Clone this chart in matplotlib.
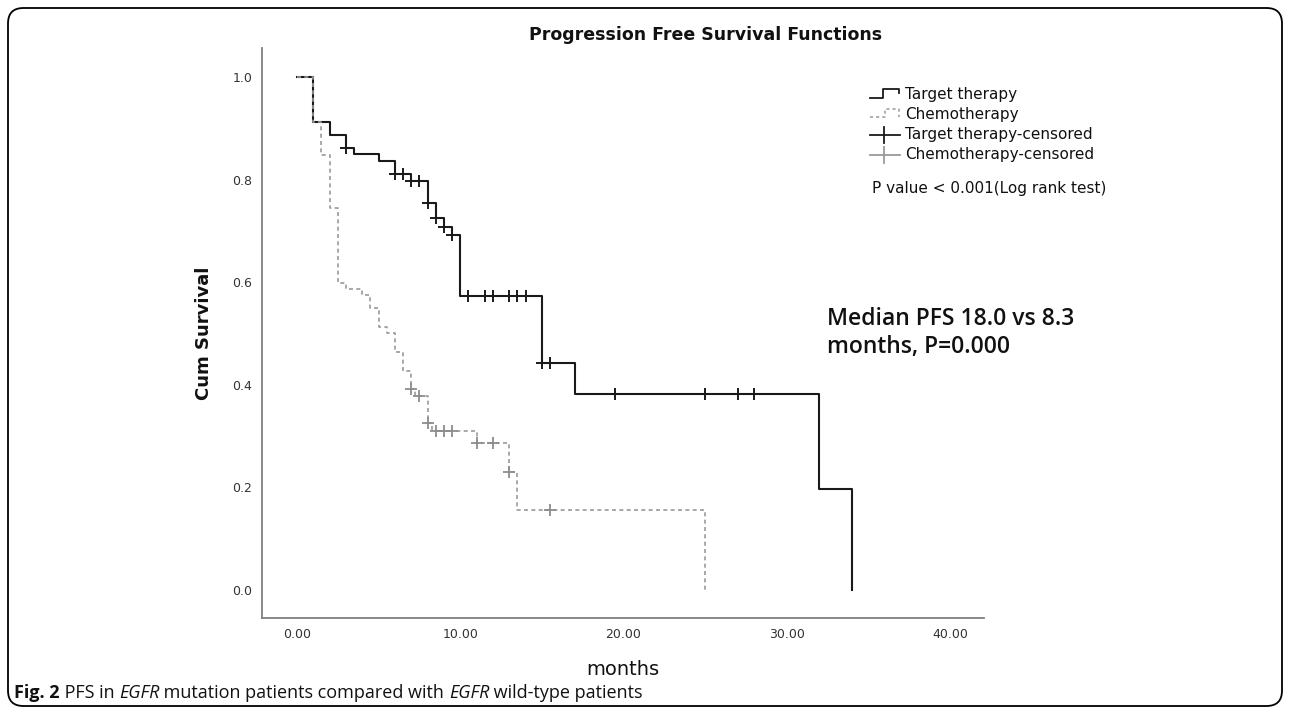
import matplotlib
matplotlib.use('Agg')
import matplotlib.pyplot as plt
import numpy as np
from matplotlib.lines import Line2D
from matplotlib.patches import FancyBboxPatch

# Kaplan-Meier steps (months, cumulative survival)
target_t = [0, 1.0, 2.0, 3.0, 3.5, 5.0, 6.0, 7.0, 8.0, 8.5, 9.0, 9.5, 10.0, 15.0, 17.0, 32.0, 34.0]
target_s = [1.0, 0.913, 0.887, 0.862, 0.849, 0.836, 0.810, 0.797, 0.754, 0.725, 0.708, 0.692,
            0.573, 0.441, 0.381, 0.196, 0.0]
target_cens = [3.0, 6.0, 6.5, 7.0, 7.5, 8.0, 8.5, 9.0, 9.5, 10.5, 11.5, 12.0, 13.0, 13.5, 14.0,
               15.0, 15.5, 19.5, 25.0, 27.0, 28.0]

chemo_t = [0, 1.0, 1.5, 2.0, 2.5, 3.0, 4.0, 4.5, 5.0, 5.5, 6.0, 6.5, 7.0, 7.25, 8.0, 8.25,
           11.0, 13.0, 13.5, 25.0]
chemo_s = [1.0, 0.913, 0.848, 0.744, 0.598, 0.586, 0.575, 0.549, 0.513, 0.500, 0.464, 0.427,
           0.391, 0.378, 0.324, 0.309, 0.286, 0.230, 0.156, 0.0]
chemo_cens = [7.0, 7.5, 8.0, 8.5, 9.0, 9.5, 11.0, 12.0, 13.0, 15.5]

x_ticks = [0, 10, 20, 30, 40]
y_ticks = [0.0, 0.2, 0.4, 0.6, 0.8, 1.0]

legend_labels = ['Target therapy', 'Chemotherapy', 'Target therapy-censored', 'Chemotherapy-censored']

W, H = 1290, 713
BLACK = '#1a1a1a'
GRAY = '#9a9a9a'


def level_at(ts, ss, t):
    # value of the step curve at time t
    i = np.searchsorted(ts, t, side='right') - 1
    return ss[i]


def fx(x):
    return x / W


def fy(y):
    return 1 - y / H


fig = plt.figure(figsize=(W / 100, H / 100), dpi=100)

ax = fig.add_axes([fx(262), fy(618), (984 - 262) / W, (618 - 48) / H])
ax.step(target_t, target_s, where='post', color=BLACK, lw=1.5)
ax.step(chemo_t, chemo_s, where='post', color=GRAY, lw=1.2, ls=(0, (2.4, 2.0)))

ax.plot(target_cens, [level_at(target_t, target_s, t) for t in target_cens],
        ls='none', marker='+', ms=8, mew=1.4, color=BLACK)
ax.plot(chemo_cens, [level_at(chemo_t, chemo_s, t) for t in chemo_cens],
        ls='none', marker='+', ms=8, mew=1.3, color='#8c8c8c')

ax.set_xlim(-2.14, 42.08)
ax.set_ylim(-0.0556, 1.0566)
ax.set_xticks(x_ticks)
ax.set_xticklabels(['%.2f' % v for v in x_ticks])
ax.set_yticks(y_ticks)
ax.set_yticklabels(['%.1f' % v for v in y_ticks])
ax.tick_params(length=0, labelsize=9, labelcolor='#333333', pad=7)
for s in ['top', 'right']:
    ax.spines[s].set_visible(False)
for s in ['left', 'bottom']:
    ax.spines[s].set_color('#808080')
    ax.spines[s].set_linewidth(1.3)
ax.set_xlabel('months', fontsize=14, labelpad=14, color='#111111')
ax.set_ylabel('Cum Survival', fontsize=13, fontweight='bold', labelpad=14, color='#111111')

fig.text(fx(706), fy(35), 'Progression Free Survival Functions', ha='center', va='center',
         fontsize=12.5, fontweight='bold', color='#111111')

# legend, drawn as in the original
tr = fig.transFigure
fig.add_artist(Line2D([fx(870), fx(883), fx(883), fx(899), fx(899)],
                      [fy(98), fy(98), fy(89), fy(89), fy(93)], color=BLACK, lw=1.3, transform=tr))
fig.add_artist(Line2D([fx(870), fx(885), fx(885), fx(899), fx(899)],
                      [fy(117), fy(117), fy(109), fy(109), fy(117)], color=GRAY, lw=1.1,
                      ls=(0, (2, 2)), transform=tr))
for yy, col in [(135, BLACK), (155, GRAY)]:
    fig.add_artist(Line2D([fx(870), fx(900)], [fy(yy), fy(yy)], color=col, lw=1.3, transform=tr))
    fig.add_artist(Line2D([fx(884), fx(884)], [fy(yy - 8), fy(yy + 8)], color=col, lw=1.3,
                          transform=tr))
for i, lab in enumerate(legend_labels):
    fig.text(fx(905), fy(95 + 20 * i), lab, ha='left', va='center', fontsize=11, color='#111111')
fig.text(fx(872), fy(188), 'P value < 0.001(Log rank test)', ha='left', va='center',
         fontsize=11, color='#111111')

fig.text(fx(827), fy(333), 'Median PFS 18.0 vs 8.3\nmonths, P=0.000', ha='left', va='center',
         fontsize=16.5, fontweight='semibold', family='Open Sans', color='#111111',
         linespacing=1.25)

# caption with mixed styles
renderer = fig.canvas.get_renderer()
pieces = [('Fig. 2', 'bold', 'normal'), (' PFS in ', 'normal', 'normal'),
          ('EGFR', 'normal', 'italic'), (' mutation patients compared with ', 'normal', 'normal'),
          ('EGFR', 'normal', 'italic'), (' wild-type patients', 'normal', 'normal')]
xpos = fx(14)
for txt, wt, st in pieces:
    t = fig.text(xpos, fy(693), txt, ha='left', va='center', fontsize=13, family='Open Sans',
                 fontweight=wt, fontstyle=st, color='#111111')
    bb = t.get_window_extent(renderer=renderer)
    xpos += bb.width / W

fig.add_artist(FancyBboxPatch((fx(8), fy(706)), (1282 - 8) / W, (706 - 8) / H,
                              boxstyle='round,pad=0,rounding_size=0.012', transform=tr,
                              fill=False, ec='black', lw=1.3, mutation_aspect=W / H))

fig.savefig('out.png', dpi=100)
